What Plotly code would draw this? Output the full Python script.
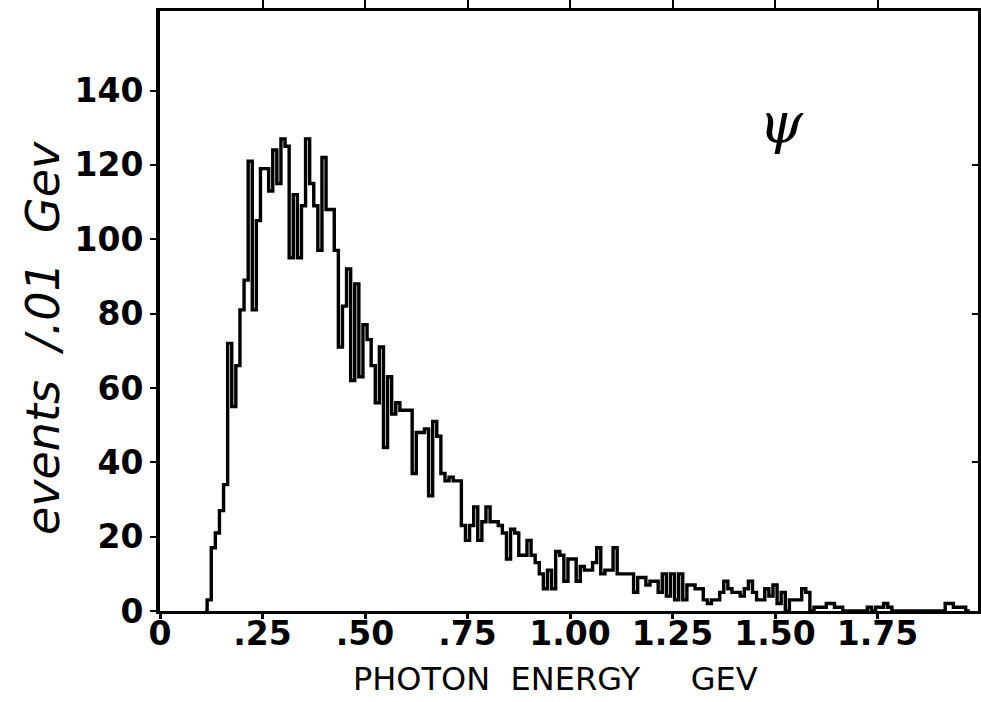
import numpy as np
import plotly.graph_objects as go

# Photon energy spectrum, 0.01 GeV bins (bin centres in GeV) and counts per bin
bin_width = 0.01
first_centre = 0.12
counts = [
    3, 17, 21, 27, 34, 72, 55, 66, 81, 89,            # 0.12 - 0.21
    121, 81, 105, 119, 119, 113, 124, 115, 127, 125,   # 0.22 - 0.31
    95, 112, 95, 109, 127, 115, 109, 97, 122, 108,     # 0.32 - 0.41
    108, 97, 71, 82, 92, 62, 88, 63, 77, 73,           # 0.42 - 0.51
    66, 56, 71, 44, 63, 53, 56, 54, 54, 54,            # 0.52 - 0.61
    37, 48, 48, 49, 31, 51, 47, 37, 35, 36,            # 0.62 - 0.71
    35, 35, 23, 19, 23, 28, 19, 24, 28, 24,            # 0.72 - 0.81
    24, 23, 21, 14, 22, 21, 15, 15, 19, 15,            # 0.82 - 0.91
    13, 10, 6, 11, 6, 16, 15, 8, 14, 14,               # 0.92 - 1.01
    8, 12, 11, 11, 13, 17, 10, 11, 11, 17,             # 1.02 - 1.11
    10, 10, 10, 10, 5, 9, 9, 7, 8, 8,                  # 1.12 - 1.21
    5, 10, 4, 10, 3, 10, 3, 7, 7, 6,                   # 1.22 - 1.31
    6, 3, 2, 3, 3, 5, 8, 6, 5, 5,                      # 1.32 - 1.41
    4, 6, 8, 5, 3, 3, 6, 4, 7, 2,                      # 1.42 - 1.51
    5, 0, 3, 3, 3, 6, 5, 0, 1, 1,                      # 1.52 - 1.61
    1, 2, 2, 1, 1, 0, 0, 0, 0, 0,                      # 1.62 - 1.71
    0, 1, 0, 1, 1, 2, 1, 0, 0, 0,                      # 1.72 - 1.81
    0, 0, 0, 0, 0, 0, 0, 0, 0, 0,                      # 1.82 - 1.91
    2, 2, 1, 1, 1, 0,                                  # 1.92 - 1.97
]

x_ticks = [0, 0.25, 0.50, 0.75, 1.00, 1.25, 1.50, 1.75]
x_tick_text = ["0", ".25", ".50", ".75", "1.00", "1.25", "1.50", "1.75"]
y_ticks = [0, 20, 40, 60, 80, 100, 120, 140]
y_tick_text = ["0", "20", "40", "60", "80", "100", "120", "140"]
right_ticks = [40, 80, 120]

# Step outline: left bin edges plus the closing right edge
centres = first_centre + bin_width * np.arange(len(counts))
edges = np.append(centres - bin_width / 2, centres[-1] + bin_width / 2)
step_y = counts + [counts[-1]]
edges = np.insert(edges, 0, edges[0] - bin_width / 2)
step_y = [0] + step_y

fig = go.Figure()
fig.add_trace(go.Scatter(
    x=edges, y=step_y, mode="lines",
    line=dict(shape="hv", color="black", width=3.4),
    hoverinfo="skip", showlegend=False,
))
# invisible carrier for the top and right tick marks
fig.add_trace(go.Scatter(x=[0], y=[0], xaxis="x2", yaxis="y2",
                         mode="markers", marker=dict(opacity=0),
                         showlegend=False, hoverinfo="skip"))

num_font = dict(family="DejaVu Sans", size=33, color="black", weight="bold")
fig.update_layout(
    width=981, height=702,
    margin=dict(l=160, r=3, t=8, b=91),
    paper_bgcolor="white", plot_bgcolor="white",
    xaxis=dict(range=[0, 1.995], tickvals=x_ticks, ticktext=x_tick_text,
               ticks="outside", ticklen=5, tickwidth=3, tickcolor="black",
               showgrid=False, zeroline=False, showline=True,
               linecolor="black", linewidth=3, tickfont=num_font,
               ticklabelstandoff=-14),
    yaxis=dict(range=[0, 161.4], tickvals=y_ticks, ticktext=y_tick_text,
               ticks="outside", ticklen=6, tickwidth=2, tickcolor="black",
               showgrid=False, zeroline=False, showline=True,
               linecolor="black", linewidth=4, tickfont=num_font),
    xaxis2=dict(range=[0, 1.995], overlaying="x", side="top",
                tickvals=x_ticks[1:], ticks="outside", ticklen=8, tickwidth=2,
                tickcolor="black", showticklabels=False, showgrid=False,
                zeroline=False, showline=True, linecolor="black", linewidth=3),
    yaxis2=dict(range=[0, 161.4], overlaying="y", side="right",
                tickvals=right_ticks, ticks="inside", ticklen=6, tickwidth=2,
                tickcolor="black", showticklabels=False, showgrid=False,
                zeroline=False, showline=True, linecolor="black", linewidth=3),
    annotations=[
        dict(text="PHOTON  ENERGY     GEV", xref="paper", yref="paper",
             x=0.483, y=-0.114, xanchor="center", yanchor="middle",
             showarrow=False,
             font=dict(family="DejaVu Sans", size=32, color="black")),
        dict(text="<i>events  /.01  Gev</i>", xref="paper", yref="paper",
             x=-0.143, y=0.455, xanchor="center", yanchor="middle",
             textangle=-90, showarrow=False,
             font=dict(family="DejaVu Sans", size=46, color="black")),
        dict(text="<i>ψ</i>", xref="paper", yref="paper",
             x=0.76, y=0.815, xanchor="center", yanchor="middle",
             showarrow=False,
             font=dict(family="DejaVu Serif", size=56, color="black")),
    ],
)

fig.write_html("out.html")
